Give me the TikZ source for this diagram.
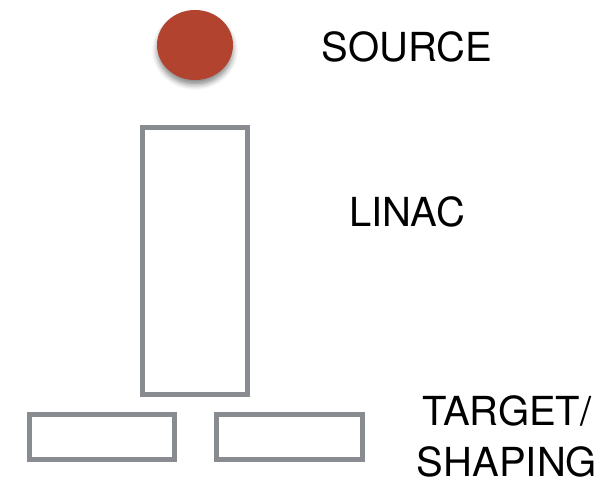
\documentclass[tikz,border=0pt]{standalone}
\usepackage{fontspec}
\setmainfont{TeX Gyre Heros}
\usetikzlibrary{shapes.geometric,shadows.blur}
\definecolor{srcred}{HTML}{B2432E}
\definecolor{boxgray}{HTML}{888B8F}
\tikzset{
  devbox/.style={draw=boxgray, line width=5pt, inner sep=0pt, fill=white},
  lbl/.style={font=\fontsize{40}{51}\selectfont, inner sep=0pt, anchor=base, align=center},
}
\begin{document}
\begin{tikzpicture}[x=1pt,y=-1pt]
\useasboundingbox (0,0) rectangle (616,478);
\node[ellipse, fill=srcred, minimum width=76pt, minimum height=70pt, inner sep=0pt,
  blur shadow={shadow xshift=0pt, shadow yshift=-5pt, shadow blur radius=5pt, shadow opacity=45}] (source) at (195,45) {};
\node[devbox, minimum width=105.5pt, minimum height=266.5pt] (linac) at (195,261) {};
\node[devbox, minimum width=145pt, minimum height=44.5pt] (targetL) at (102,437) {};
\node[devbox, minimum width=146pt, minimum height=44.5pt] (targetR) at (289,437) {};
\node[lbl] (srclbl) at (407,61.5) {SOURCE};
\node[lbl] (linaclbl) at (407,226.5) {LINAC};
\node[lbl, text depth=0pt] (tgtlbl) at (507,476) {TARGET/\\SHAPING};
\end{tikzpicture}
\end{document}
